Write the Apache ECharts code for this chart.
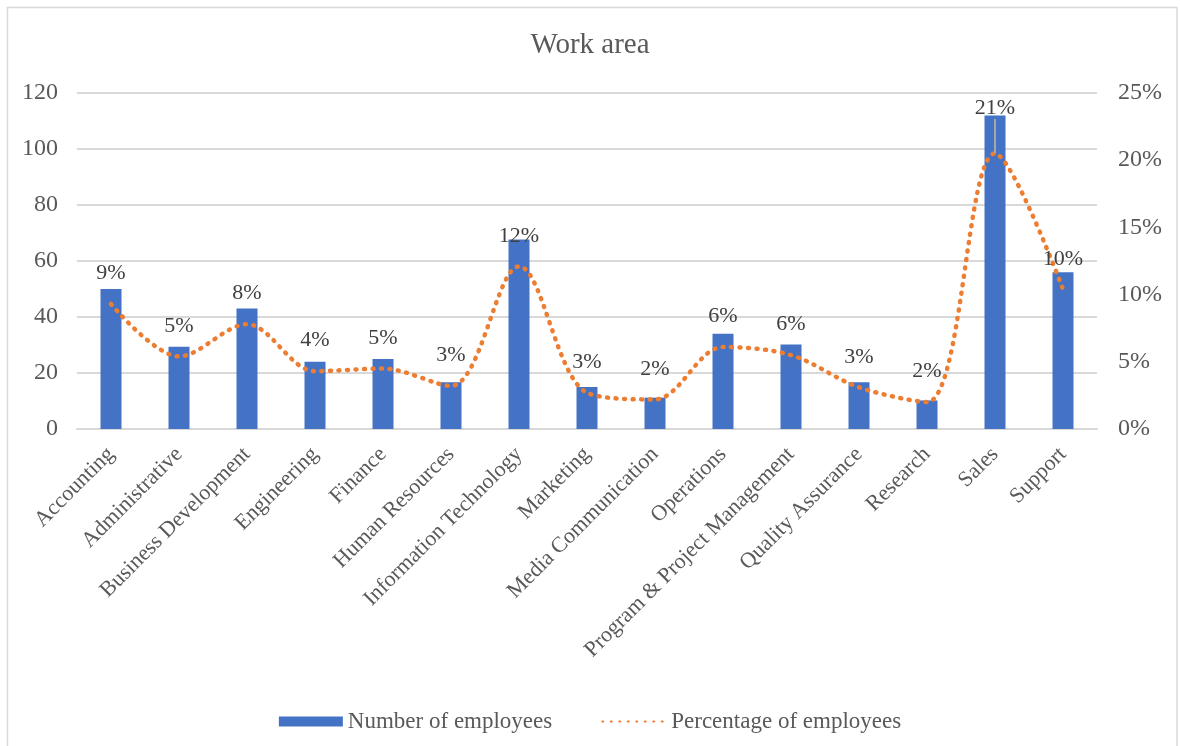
<!DOCTYPE html>
<html>
<head>
<meta charset="utf-8">
<script src="https://cdn.jsdelivr.net/npm/echarts@6/dist/echarts.min.js"></script>
<style>
html,body{margin:0;padding:0;background:#fff;}
#chart{width:1180px;height:746px;}
</style>
</head>
<body>
<div id="chart"></div>
<script>
const categories = ['Accounting','Administrative','Business Development','Engineering','Finance','Human Resources','Information Technology','Marketing','Media Communication','Operations','Program & Project Management','Quality Assurance','Research','Sales','Support'];
const employees = [50, 29.4, 43, 24, 25, 16.7, 67.7, 15, 11.2, 34, 30.2, 16.7, 10.2, 112, 56];
const percentages = [9.3, 5.4, 7.8, 4.3, 4.5, 3.2, 12.1, 2.7, 2.2, 6.1, 5.5, 3.1, 2.0, 20.5, 10.4];
const leftTicks = {min: 0, max: 120, interval: 20};
const rightTicks = {min: 0, max: 25, interval: 5};

const FONT = "'Liberation Serif', 'Times New Roman', serif";
const chart = echarts.init(document.getElementById('chart'), null, {renderer: 'canvas'});
const salesIndex = categories.indexOf('Sales');

chart.setOption({
  backgroundColor: '#ffffff',
  animation: false,
  textStyle: {fontFamily: FONT},
  graphic: [{
    type: 'rect',
    shape: {x: 7.5, y: 7.5, width: 1169.5, height: 760},
    style: {fill: 'none', stroke: '#D9D9D9', lineWidth: 1.5},
    silent: true
  }],
  title: {
    text: 'Work area',
    left: 'center',
    top: 31,
    padding: 0,
    textStyle: {fontFamily: FONT, fontSize: 29, fontWeight: 'normal', color: '#595959'}
  },
  legend: {
    top: 705,
    left: 'center',
    itemWidth: 64,
    itemHeight: 10,
    itemGap: 49,
    textStyle: {fontFamily: FONT, fontSize: 23, color: '#595959'},
    data: [
      {name: 'Number of employees', icon: 'rect'},
      {name: 'Percentage of employees'}
    ]
  },
  grid: {left: 77, right: 83, top: 93, bottom: 317, containLabel: false, outerBoundsMode: 'none'},
  xAxis: {
    type: 'category',
    data: categories,
    axisTick: {show: false},
    axisLine: {show: true, lineStyle: {color: '#D9D9D9', width: 2}},
    axisLabel: {
      rotate: 45,
      interval: 0,
      margin: 22,
      fontFamily: FONT,
      fontSize: 22,
      color: '#595959'
    }
  },
  yAxis: [{
    type: 'value',
    min: leftTicks.min, max: leftTicks.max, interval: leftTicks.interval,
    axisLine: {show: false},
    axisTick: {show: false},
    splitLine: {lineStyle: {color: '#D9D9D9', width: 2}},
    axisLabel: {fontFamily: FONT, fontSize: 24, color: '#595959', margin: 19}
  }, {
    type: 'value',
    position: 'right',
    min: rightTicks.min, max: rightTicks.max, interval: rightTicks.interval,
    axisLine: {show: false},
    axisTick: {show: false},
    splitLine: {show: false},
    axisLabel: {fontFamily: FONT, fontSize: 24, color: '#595959', margin: 21, formatter: '{value}%'}
  }],
  series: [{
    name: 'Number of employees',
    type: 'bar',
    data: employees,
    barWidth: 21,
    itemStyle: {color: '#4472C4'},
    z: 2
  }, {
    name: 'Percentage of employees',
    type: 'line',
    yAxisIndex: 1,
    data: percentages.map((v, i) => i === salesIndex ? {value: v, labelLine: {show: true}} : v),
    smooth: 0.33,
    symbol: 'circle',
    symbolSize: 1,
    showSymbol: true,
    itemStyle: {color: 'rgba(237,125,49,0)'},
    lineStyle: {color: '#ED7D31', width: 4.5, type: [1, 7.5], cap: 'round'},
    label: {
      show: true,
      position: 'top',
      distance: 19,
      fontFamily: FONT,
      fontSize: 22,
      color: '#404040',
      formatter: p => Math.round(p.value) + '%'
    },
    labelLine: {show: false, lineStyle: {color: '#A6A6A6', width: 2}},
    labelLayout: function (params) {
      if (params.dataIndex === salesIndex) {
        return {dy: -15};
      }
      return {};
    },
    z: 3
  }]
});
</script>
</body>
</html>
